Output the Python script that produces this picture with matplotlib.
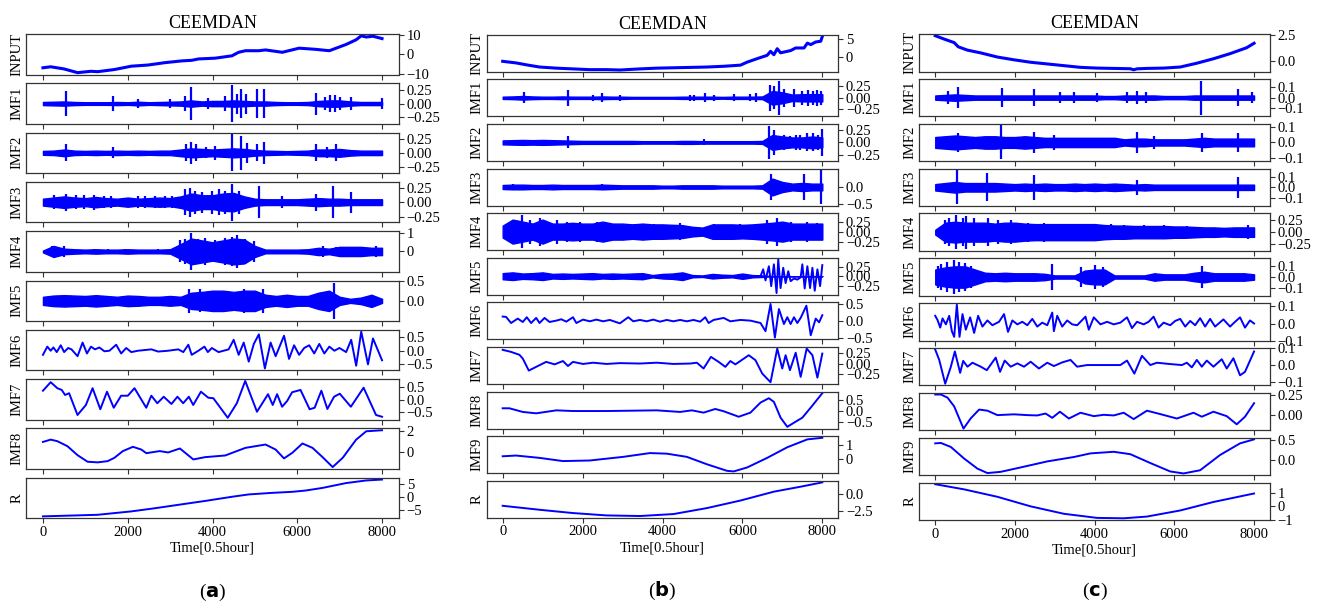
import numpy as np
import matplotlib
matplotlib.use("Agg")
import matplotlib.pyplot as plt

plt.rcParams['font.family'] = ['Liberation Serif', 'DejaVu Sans']
plt.rcParams['mathtext.fontset'] = 'dejavusans'

# common sample grid for the envelope of the dense (noisy) IMFs
band_t = np.arange(0, 8001, 250)
xticks = [0, 2000, 4000, 6000, 8000]

# ---------------- panel (a) ----------------
a_input_t = [0, 182, 499, 816, 1133, 1291, 1687, 2083, 2479, 2875, 3271, 3509, 3667, 4063, 4459, 4617, 4776, 5093,
             5251, 5647, 6043, 6439, 6756, 7152, 7389, 7508, 7627, 7785, 8000]
a_input_v = [-6.8, -6.3, -7.4, -9.3, -8.6, -8.8, -7.7, -6.0, -5.4, -4.2, -3.3, -3.0, -2.3, -1.9, -0.7, 1.1, 1.9, 1.9,
             2.3, 1.1, 3.2, 2.6, 1.9, 5.1, 7.5, 9.5, 8.9, 9.3, 8.1]

a_imf1_band = [0.03, 0.035, 0.04, 0.03, 0.025, 0.025, 0.025, 0.03, 0.025, 0.035, 0.025, 0.03, 0.035, 0.04, 0.06, 0.04,
               0.05, 0.05, 0.06, 0.05, 0.04, 0.04, 0.03, 0.025, 0.025, 0.03, 0.05, 0.06, 0.06, 0.04, 0.03, 0.03, 0.03]
a_imf1_spk_t = [540, 1650, 2240, 3000, 3350, 3490, 3900, 4300, 4460, 4580, 4680, 4780, 5050, 5210, 6440, 6650, 6780,
                6880, 7000, 7270, 7990]
a_imf1_spk_a = [0.24, 0.14, 0.09, 0.08, 0.14, 0.31, 0.11, 0.14, 0.35, 0.19, 0.28, 0.19, 0.28, 0.28, 0.21, 0.13, 0.17,
                0.16, 0.12, 0.13, 0.1]

a_imf2_band = [0.035, 0.04, 0.06, 0.04, 0.035, 0.04, 0.035, 0.04, 0.035, 0.04, 0.035, 0.04, 0.04, 0.06, 0.08, 0.07,
               0.06, 0.07, 0.08, 0.07, 0.05, 0.04, 0.035, 0.03, 0.035, 0.04, 0.06, 0.06, 0.07, 0.05, 0.04, 0.04, 0.04]
a_imf2_spk_t = [540, 1650, 3380, 3500, 3600, 3850, 4060, 4460, 4680, 4815, 5050, 5210, 6440, 6700, 6910]
a_imf2_spk_a = [0.15, 0.1, 0.15, 0.2, 0.15, 0.1, 0.12, 0.33, 0.3, 0.18, 0.15, 0.2, 0.15, 0.1, 0.15]

a_imf3_band = [0.06, 0.08, 0.1, 0.08, 0.07, 0.09, 0.07, 0.06, 0.08, 0.06, 0.07, 0.08, 0.07, 0.1, 0.15, 0.12, 0.12,
               0.15, 0.16, 0.1, 0.06, 0.05, 0.05, 0.05, 0.05, 0.06, 0.07, 0.06, 0.06, 0.05, 0.05, 0.05, 0.05]
a_imf3_spk_t = [261, 539, 776, 974, 1212, 1449, 1608, 2241, 2400, 2637, 2875, 3033, 3350, 3469, 3588, 3746, 3984, 4142,
                4301, 4459, 4617, 5093, 5647, 6439, 6835, 7271]
a_imf3_spk_a = [0.12, 0.15, 0.12, 0.12, 0.13, 0.1, 0.1, 0.1, 0.1, 0.1, 0.1, 0.1, 0.22, 0.25, 0.2, 0.18, 0.2, 0.22, 0.2,
                0.32, 0.2, 0.28, 0.1, 0.15, 0.28, 0.18]

a_imf4_band = [0.05, 0.3, 0.15, 0.12, 0.1, 0.12, 0.1, 0.1, 0.12, 0.1, 0.1, 0.1, 0.12, 0.4, 0.7, 0.6, 0.5, 0.6, 0.7,
               0.65, 0.3, 0.1, 0.1, 0.1, 0.1, 0.12, 0.2, 0.15, 0.25, 0.25, 0.25, 0.2, 0.2]
a_imf4_spk_t = [222, 499, 1212, 1529, 1925, 2716, 3231, 3350, 3485, 3667, 3825, 4063, 4301, 4459, 4578, 4776, 4974,
                6597, 6914, 7310, 7865]
a_imf4_spk_a = [0.3, 0.3, 0.12, 0.15, 0.12, 0.12, 0.6, 0.7, 1.0, 0.7, 0.75, 0.6, 0.75, 0.8, 0.9, 0.7, 0.55, 0.3, 0.25,
                0.2, 0.3]

a_imf5_band = [0.1, 0.13, 0.14, 0.13, 0.12, 0.14, 0.12, 0.1, 0.13, 0.12, 0.1, 0.1, 0.12, 0.1, 0.2, 0.22, 0.25, 0.25,
               0.22, 0.25, 0.25, 0.15, 0.12, 0.15, 0.12, 0.12, 0.2, 0.25, 0.1, 0.05, 0.08, 0.15, 0.05]
a_imf5_spk_t = [3450, 3700, 4740, 5200, 6870]
a_imf5_spk_a = [0.3, 0.28, 0.3, 0.3, 0.45]

a_imf6_t = [0, 103, 182, 246, 325, 420, 499, 594, 673, 816, 935, 1038, 1133, 1228, 1331, 1449, 1568, 1727, 1845, 1964,
            2083, 2241, 2558, 2717, 2954, 3192, 3311, 3429, 3509, 3667, 3810, 3889, 3984, 4142, 4380, 4499, 4617, 4736,
            4855, 4974, 5093, 5235, 5370, 5489, 5687, 5805, 5924, 6043, 6162, 6281, 6399, 6518, 6637, 6756, 6875, 6994,
            7152, 7271, 7389, 7508, 7667, 7785, 7999]
a_imf6_v = [-0.15, 0.15, 0.0, 0.12, -0.05, 0.2, -0.05, 0.1, 0.05, -0.2, 0.3, -0.1, 0.15, 0.05, 0.12, -0.02, 0.0, 0.22,
            -0.1, 0.1, -0.05, 0.0, 0.05, -0.03, 0.0, 0.05, -0.05, 0.22, -0.15, 0.0, 0.15, -0.05, 0.1, -0.05, 0.05, 0.4,
            -0.15, 0.3, -0.4, 0.25, 0.6, -0.65, 0.3, -0.2, 0.55, -0.3, 0.2, -0.15, 0.1, 0.2, -0.1, 0.25, -0.1, 0.15,
            0.0, 0.1, -0.05, 0.4, -0.55, 0.7, -0.5, 0.45, -0.35]

a_imf7_t = [0, 182, 340, 443, 522, 617, 815, 1013, 1171, 1353, 1511, 1670, 1844, 2002, 2160, 2437, 2556, 2698, 2849,
            3031, 3173, 3308, 3442, 3545, 3727, 3901, 4020, 4360, 4574, 4772, 5049, 5310, 5421, 5524, 5642, 5761, 5879,
            6077, 6291, 6410, 6568, 6710, 6868, 7003, 7264, 7565, 7858, 8000]
a_imf7_v = [0.37, 0.71, 0.47, 0.4, 0.2, 0.27, -0.6, -0.2, 0.47, -0.37, 0.33, -0.31, 0.17, 0.17, 0.47, -0.31, 0.17,
            -0.13, 0.13, -0.16, 0.13, -0.13, 0.13, -0.2, 0.33, 0.09, 0.07, -0.71, -0.13, 0.76, -0.47, 0.23, -0.2, 0.23,
            -0.27, -0.04, 0.31, 0.4, -0.37, -0.31, 0.37, -0.36, 0.13, 0.25, -0.27, 0.49, -0.6, -0.67]

a_imf8_t = [0, 182, 340, 578, 816, 1053, 1291, 1529, 1687, 1885, 2122, 2320, 2440, 2637, 2756, 2954, 3231, 3548, 3825,
            4300, 4776, 5251, 5489, 5687, 5884, 6122, 6360, 6597, 6835, 7073, 7389, 7627, 8000]
a_imf8_v = [0.98, 1.2, 1.05, 0.57, -0.29, -0.92, -0.98, -0.86, -0.54, 0.1, 0.51, 0.25, -0.1, 0.03, 0.1, -0.03, 0.35,
            -0.7, -0.48, -0.32, 0.41, 0.73, 0.25, -0.6, -0.06, 0.83, 0.41, -0.48, -1.43, -0.54, 1.2, 2.0, 2.1]

a_r_t = [0, 1291, 2083, 2637, 3271, 3825, 4459, 4855, 5409, 5884, 6201, 6597, 7152, 7627, 8000]
a_r_v = [-7.5, -6.9, -5.6, -4.4, -2.9, -1.6, 0.0, 0.9, 1.5, 1.9, 2.4, 3.4, 5.25, 6.25, 6.6]

# ---------------- panel (b) ----------------
b_input_t = [0, 335, 587, 922, 1341, 1760, 2179, 2598, 2933, 3436, 3855, 4274, 4693, 5112, 5531, 5950, 6117, 6369,
             6620, 6704, 6788, 6872, 6955, 7207, 7333, 7542, 7626, 7710, 7835, 7961, 8000]
b_input_v = [-1.07, -1.5, -2.0, -2.6, -2.9, -3.1, -3.3, -3.3, -3.4, -3.1, -2.9, -2.8, -2.7, -2.6, -2.4, -2.1, -1.3,
             -0.36, 0.54, 1.6, 0.7, 2.3, 1.2, 1.8, 2.5, 2.5, 3.8, 3.4, 4.1, 4.3, 5.6]

b_imf1_band = [0.025, 0.03, 0.04, 0.03, 0.025, 0.025, 0.03, 0.025, 0.025, 0.025, 0.03, 0.025, 0.025, 0.02, 0.02, 0.02,
               0.02, 0.02, 0.025, 0.025, 0.025, 0.025, 0.02, 0.025, 0.025, 0.025, 0.03, 0.15, 0.12, 0.07, 0.08, 0.08,
               0.08]
b_imf1_spk_t = [545, 1634, 2263, 2489, 2933, 4700, 4800, 5070, 5280, 5782, 6201, 6330, 6700, 6790, 6913, 7050, 7291,
                7500, 7640, 7760, 7870, 7970]
b_imf1_spk_a = [0.12, 0.18, 0.07, 0.1, 0.06, 0.07, 0.07, 0.1, 0.07, 0.08, 0.08, 0.1, 0.28, 0.25, 0.37, 0.2, 0.2, 0.15,
                0.17, 0.15, 0.17, 0.15]

b_imf2_band = [0.04, 0.045, 0.05, 0.045, 0.05, 0.045, 0.04, 0.035, 0.03, 0.03, 0.03, 0.03, 0.03, 0.03, 0.025, 0.025,
               0.025, 0.025, 0.03, 0.03, 0.025, 0.025, 0.025, 0.025, 0.025, 0.025, 0.03, 0.15, 0.12, 0.1, 0.1, 0.12,
               0.1]
b_imf2_spk_t = [1634, 5050, 6662, 6790, 7030, 7200, 7330, 7450, 7620, 7760, 7880, 7986]
b_imf2_spk_a = [0.12, 0.06, 0.34, 0.25, 0.15, 0.12, 0.15, 0.15, 0.18, 0.18, 0.15, 0.27]

b_imf3_band = [0.06, 0.07, 0.07, 0.06, 0.06, 0.07, 0.06, 0.06, 0.06, 0.06, 0.07, 0.06, 0.05, 0.05, 0.05, 0.05, 0.04,
               0.04, 0.05, 0.05, 0.05, 0.05, 0.04, 0.04, 0.04, 0.04, 0.05, 0.25, 0.15, 0.1, 0.12, 0.1, 0.1]
b_imf3_spk_t = [268, 2483, 6705, 7541, 7975]
b_imf3_spk_a = [0.1, 0.08, 0.38, 0.38, 0.5]

b_imf4_band = [0.15, 0.3, 0.25, 0.2, 0.3, 0.2, 0.2, 0.22, 0.2, 0.2, 0.25, 0.2, 0.2, 0.18, 0.2, 0.18, 0.18, 0.17,
               0.16, 0.12, 0.1, 0.18, 0.18, 0.18, 0.17, 0.18, 0.2, 0.22, 0.25, 0.2, 0.2, 0.2, 0.2]
b_imf4_spk_t = [268, 477, 686, 936, 1354, 1605, 1940, 2357, 2566, 2859, 3277, 3779, 4448, 5284, 5952, 6621, 6872, 7206,
                7624, 7875]
b_imf4_spk_a = [0.3, 0.42, 0.3, 0.35, 0.3, 0.25, 0.25, 0.25, 0.25, 0.2, 0.2, 0.18, 0.22, 0.2, 0.18, 0.3, 0.35, 0.25,
                0.25, 0.22]

b_imf5_band = [0.08, 0.1, 0.07, 0.08, 0.1, 0.06, 0.07, 0.06, 0.07, 0.08, 0.06, 0.07, 0.06, 0.07, 0.08, 0.03, 0.06,
               0.07, 0.1, 0.03, 0.02, 0.06, 0.04, 0.03, 0.07, 0.03, 0.02, 0, 0, 0, 0, 0, 0]
b_imf5_t = [6300, 6453, 6520, 6578, 6662, 6721, 6788, 6855, 6897, 6955, 7022, 7081, 7148, 7207, 7291, 7374, 7458, 7500,
            7559, 7626, 7693, 7752, 7810, 7877, 7944, 8000]
b_imf5_v = [0.0, 0.0, 0.18, -0.11, 0.26, -0.26, 0.31, -0.44, 0.44, -0.31, 0.22, -0.18, 0.13, -0.13, -0.06, -0.09,
            -0.03, 0.31, -0.32, 0.26, -0.31, 0.22, -0.38, 0.18, -0.26, 0.29]

b_imf6_t = [0, 84, 210, 377, 503, 603, 712, 838, 922, 1048, 1173, 1341, 1467, 1592, 1760, 1844, 2011, 2179, 2346, 2514,
            2682, 2933, 3143, 3268, 3436, 3604, 3771, 3939, 4106, 4274, 4441, 4609, 4777, 4944, 5070, 5154, 5279, 5531,
            5698, 5950, 6201, 6453, 6578, 6704, 6813, 6914, 7039, 7123, 7207, 7291, 7374, 7458, 7601, 7710, 7835, 7919,
            8000]
b_imf6_v = [0.12, 0.11, -0.07, 0.06, -0.04, 0.1, -0.07, 0.08, -0.07, 0.08, -0.04, 0.0, 0.04, -0.03, 0.1, -0.07, 0.03,
            -0.02, 0.03, -0.02, 0.02, -0.08, 0.1, -0.02, 0.02, -0.02, 0.03, -0.03, 0.02, -0.02, 0.02, -0.02, 0.02,
            -0.03, 0.1, -0.07, 0.02, 0.08, -0.02, 0.02, 0.0, -0.07, -0.31, 0.49, -0.5, 0.34, -0.1, 0.1, -0.1, 0.1,
            -0.07, 0.08, 0.44, -0.43, 0.06, -0.05, 0.16]

b_imf7_t = [0, 210, 419, 503, 654, 838, 1089, 1299, 1508, 1634, 1760, 2011, 2263, 2598, 2933, 3436, 3855, 4274, 4693,
            4860, 5028, 5212, 5405, 5573, 5698, 5824, 6159, 6327, 6495, 6704, 6872, 6997, 7081, 7190, 7333, 7458, 7609,
            7752, 7877, 8000]
b_imf7_v = [0.33, 0.28, 0.21, 0.12, -0.17, -0.08, 0.04, -0.02, 0.06, -0.06, 0.04, -0.01, 0.02, -0.01, 0.01, 0.0, 0.02,
            -0.01, 0.0, 0.02, -0.12, 0.16, 0.04, -0.08, 0.06, -0.02, 0.2, 0.08, -0.24, -0.45, 0.36, -0.12, 0.2, -0.16,
            0.26, -0.32, 0.36, 0.2, -0.34, 0.24]

b_imf8_t = [0, 168, 503, 838, 1341, 1760, 2598, 3855, 4441, 4735, 5028, 5321, 5531, 5908, 6201, 6453, 6662, 6788, 6955,
            7123, 7291, 7500, 7710, 8000]
b_imf8_v = [0.12, 0.12, -0.04, -0.1, 0.03, 0.0, 0.0, 0.03, -0.04, 0.03, -0.07, 0.09, -0.01, -0.25, -0.07, 0.37, 0.56,
            0.4, -0.29, -0.69, -0.51, -0.29, 0.15, 0.78]

b_imf9_t = [0, 335, 922, 1508, 2179, 3017, 3687, 4106, 4609, 5112, 5615, 5782, 6117, 6620, 7123, 7626, 8000]
b_imf9_v = [0.22, 0.27, 0.11, -0.11, -0.07, 0.18, 0.44, 0.4, 0.18, -0.33, -0.78, -0.82, -0.55, 0.11, 0.84, 1.38, 1.49]

b_r_t = [0, 922, 1760, 2598, 3436, 4274, 5112, 5950, 6788, 7458, 8000]
b_r_v = [-1.76, -2.35, -2.84, -3.19, -3.28, -2.99, -2.1, -0.98, 0.34, 1.08, 1.72]

# ---------------- panel (c) ----------------
c_input_t = [0, 225, 475, 575, 809, 1143, 1560, 1977, 2394, 2811, 3228, 3645, 4062, 4479, 4896, 4979, 5062, 5312, 5730,
             6147, 6564, 6981, 7398, 7815, 8000]
c_input_v = [2.4, 2.08, 1.75, 1.36, 1.04, 0.78, 0.39, 0.13, -0.1, -0.26, -0.42, -0.58, -0.65, -0.68, -0.71, -0.81,
             -0.72, -0.68, -0.65, -0.55, -0.19, 0.23, 0.71, 1.27, 1.69]

c_imf1_band = [0.02, 0.025, 0.03, 0.025, 0.02, 0.02, 0.02, 0.02, 0.02, 0.02, 0.02, 0.02, 0.02, 0.02, 0.02, 0.02, 0.02,
               0.015, 0.015, 0.02, 0.02, 0.02, 0.02, 0.015, 0.015, 0.015, 0.02, 0.02, 0.02, 0.02, 0.02, 0.02, 0.02]
c_imf1_spk_t = [309, 575, 1668, 2477, 3140, 3470, 4050, 4800, 5062, 5300, 6672, 7606, 7960]
c_imf1_spk_a = [0.06, 0.1, 0.09, 0.08, 0.05, 0.05, 0.04, 0.05, 0.06, 0.05, 0.16, 0.08, 0.05]

c_imf2_band = [0.035, 0.04, 0.045, 0.04, 0.035, 0.04, 0.04, 0.035, 0.035, 0.04, 0.035, 0.03, 0.03, 0.03, 0.03, 0.03,
               0.03, 0.03, 0.03, 0.02, 0.025, 0.025, 0.02, 0.02, 0.02, 0.02, 0.025, 0.03, 0.025, 0.025, 0.025, 0.025,
               0.025]
c_imf2_spk_t = [575, 1660, 2477, 2980, 5062, 5500, 6689, 7606]
c_imf2_spk_a = [0.06, 0.11, 0.07, 0.05, 0.07, 0.04, 0.06, 0.06]

c_imf3_band = [0.03, 0.04, 0.05, 0.04, 0.04, 0.04, 0.04, 0.035, 0.03, 0.035, 0.03, 0.035, 0.03, 0.03, 0.035, 0.03,
               0.035, 0.03, 0.035, 0.03, 0.025, 0.03, 0.025, 0.025, 0.025, 0.025, 0.025, 0.025, 0.025, 0.025, 0.025,
               0.025, 0.025]
c_imf3_spk_t = [541, 1300, 2482, 5064, 7605]
c_imf3_spk_a = [0.16, 0.13, 0.12, 0.07, 0.1]

c_imf4_band = [0.05, 0.2, 0.22, 0.2, 0.2, 0.2, 0.18, 0.2, 0.2, 0.18, 0.17, 0.17, 0.17, 0.17, 0.17, 0.17, 0.17, 0.15,
               0.14, 0.14, 0.13, 0.13, 0.13, 0.13, 0.12, 0.12, 0.11, 0.1, 0.1, 0.09, 0.1, 0.1, 0.1]
c_imf4_spk_t = [233, 333, 525, 691, 775, 983, 1316, 1566, 1899, 2316, 2732, 3149, 3565, 3982, 4398, 4731, 5231, 5731,
                6314, 7855]
c_imf4_spk_a = [0.25, 0.3, 0.36, 0.3, 0.35, 0.3, 0.3, 0.25, 0.25, 0.2, 0.2, 0.18, 0.18, 0.15, 0.17, 0.15, 0.15, 0.15,
                0.12, 0.15]

c_imf5_band = [0.07, 0.09, 0.1, 0.1, 0.07, 0.04, 0.035, 0.04, 0.035, 0.035, 0.035, 0.03, 0.015, 0.015, 0.015, 0.06,
               0.07, 0.07, 0.015, 0.015, 0.015, 0.015, 0.035, 0.025, 0.025, 0.025, 0.04, 0.05, 0.035, 0.035, 0.035,
               0.035, 0.025]
c_imf5_spk_t = [60, 150, 300, 475, 600, 750, 900, 2936, 3650, 4000, 4200, 6690]
c_imf5_spk_a = [0.1, 0.12, 0.14, 0.16, 0.14, 0.13, 0.1, 0.12, 0.09, 0.11, 0.09, 0.1]

c_imf6_t = [0, 58, 125, 183, 267, 350, 417, 475, 542, 609, 684, 767, 876, 976, 1076, 1184, 1309, 1434, 1601, 1726, 1826,
            1935, 2060, 2185, 2310, 2435, 2560, 2685, 2811, 2936, 2977, 3061, 3186, 3311, 3436, 3561, 3770, 3853, 3978,
            4145, 4312, 4479, 4645, 4812, 4937, 5062, 5229, 5354, 5479, 5604, 5730, 5896, 6021, 6147, 6272, 6397, 6522,
            6647, 6772, 6897, 7022, 7231, 7398, 7523, 7648, 7773, 7898, 8000]
c_imf6_v = [0.045, 0.02, -0.024, 0.03, -0.005, 0.045, -0.045, -0.078, 0.11, -0.078, 0.055, -0.036, 0.036, -0.055,
            0.045, -0.018, 0.018, -0.01, 0.01, 0.055, -0.049, 0.018, -0.005, 0.01, -0.01, 0.027, -0.018, 0.005, -0.01,
            0.064, -0.045, 0.045, -0.018, 0.018, -0.005, -0.01, 0.04, -0.036, 0.036, -0.005, 0.01, -0.005, 0.005,
            0.036, -0.027, 0.01, -0.005, 0.01, 0.04, -0.024, 0.005, -0.01, 0.015, 0.027, -0.018, 0.015, -0.01, 0.031,
            -0.018, 0.027, -0.018, 0.024, -0.018, 0.01, 0.036, -0.024, 0.018, 0.0]

c_imf7_t = [0, 100, 250, 392, 492, 625, 701, 809, 934, 1143, 1293, 1518, 1626, 1743, 1893, 2060, 2227, 2394, 2602, 2811,
            2977, 3186, 3394, 3561, 3811, 4645, 4812, 4996, 5187, 5396, 5563, 5896, 6188, 6313, 6438, 6564, 6689, 6814,
            6981, 7189, 7314, 7481, 7648, 7773, 8000]
c_imf7_v = [0.093, 0.031, -0.113, -0.01, 0.082, -0.047, 0.025, -0.01, 0.014, -0.01, -0.031, 0.045, -0.041, 0.027,
            -0.01, 0.01, -0.01, 0.02, -0.021, 0.014, -0.006, 0.016, 0.031, -0.01, 0.0, 0.0, 0.027, -0.052, 0.056, 0.0,
            0.014, 0.006, 0.0, 0.014, -0.014, 0.031, -0.01, 0.027, -0.01, 0.035, -0.021, 0.041, -0.062, -0.041, 0.082]

c_imf8_t = [0, 142, 309, 475, 709, 892, 1101, 1309, 1560, 1977, 2310, 2560, 2769, 2936, 3128, 3353, 3645, 3978, 4228,
            4479, 4729, 4979, 5312, 5646, 6063, 6480, 6689, 6981, 7314, 7565, 7773, 8000]
c_imf8_v = [0.26, 0.26, 0.22, 0.11, -0.17, -0.04, 0.07, 0.056, 0.0, 0.01, 0.0, -0.004, 0.02, -0.034, 0.043, -0.043,
            0.03, -0.013, 0.004, -0.004, 0.03, -0.05, 0.056, 0.013, -0.043, 0.03, -0.02, 0.043, -0.013, -0.116, -0.02,
            0.15]

c_imf9_t = [0, 142, 392, 726, 1059, 1309, 1643, 2143, 2811, 3478, 3895, 4479, 4896, 5396, 5896, 6230, 6647, 7147, 7648,
            8000]
c_imf9_v = [0.42, 0.43, 0.33, 0.04, -0.21, -0.32, -0.29, -0.18, -0.03, 0.08, 0.17, 0.21, 0.15, -0.07, -0.28, -0.33,
            -0.25, 0.13, 0.42, 0.52]

c_r_t = [0, 726, 1560, 2394, 3228, 4062, 4729, 5312, 6147, 6981, 8000]
c_r_v = [1.67, 1.28, 0.72, 0.0, -0.56, -0.87, -0.9, -0.77, -0.31, 0.33, 0.97]

# ---------------- row specs ----------------
rows_a = [
    ("INPUT", dict(t=a_input_t, v=a_input_v, lw=2.2), [-10, 0, 10]),
    ("IMF1", dict(band=a_imf1_band, st=a_imf1_spk_t, sa=a_imf1_spk_a), [-0.25, 0, 0.25]),
    ("IMF2", dict(band=a_imf2_band, st=a_imf2_spk_t, sa=a_imf2_spk_a), [-0.25, 0, 0.25]),
    ("IMF3", dict(band=a_imf3_band, st=a_imf3_spk_t, sa=a_imf3_spk_a), [-0.25, 0, 0.25]),
    ("IMF4", dict(band=a_imf4_band, st=a_imf4_spk_t, sa=a_imf4_spk_a), [0, 1]),
    ("IMF5", dict(band=a_imf5_band, st=a_imf5_spk_t, sa=a_imf5_spk_a), [0.0, 0.5]),
    ("IMF6", dict(t=a_imf6_t, v=a_imf6_v), [-0.5, 0, 0.5]),
    ("IMF7", dict(t=a_imf7_t, v=a_imf7_v), [-0.5, 0, 0.5]),
    ("IMF8", dict(t=a_imf8_t, v=a_imf8_v), [0, 2]),
    ("R", dict(t=a_r_t, v=a_r_v), [-5, 0, 5]),
]
rows_b = [
    ("INPUT", dict(t=b_input_t, v=b_input_v, lw=2.2), [0, 5]),
    ("IMF1", dict(band=b_imf1_band, st=b_imf1_spk_t, sa=b_imf1_spk_a), [-0.25, 0, 0.25]),
    ("IMF2", dict(band=b_imf2_band, st=b_imf2_spk_t, sa=b_imf2_spk_a), [-0.25, 0, 0.25]),
    ("IMF3", dict(band=b_imf3_band, st=b_imf3_spk_t, sa=b_imf3_spk_a), [-0.5, 0.0]),
    ("IMF4", dict(band=b_imf4_band, st=b_imf4_spk_t, sa=b_imf4_spk_a), [-0.25, 0, 0.25]),
    ("IMF5", dict(band=b_imf5_band, t=b_imf5_t, v=b_imf5_v), [-0.25, 0, 0.25]),
    ("IMF6", dict(t=b_imf6_t, v=b_imf6_v), [-0.5, 0, 0.5]),
    ("IMF7", dict(t=b_imf7_t, v=b_imf7_v), [-0.25, 0, 0.25]),
    ("IMF8", dict(t=b_imf8_t, v=b_imf8_v), [-0.5, 0, 0.5]),
    ("IMF9", dict(t=b_imf9_t, v=b_imf9_v), [0, 1]),
    ("R", dict(t=b_r_t, v=b_r_v), [-2.5, 0.0]),
]
rows_c = [
    ("INPUT", dict(t=c_input_t, v=c_input_v, lw=2.2), [0.0, 2.5]),
    ("IMF1", dict(band=c_imf1_band, st=c_imf1_spk_t, sa=c_imf1_spk_a), [-0.1, 0, 0.1]),
    ("IMF2", dict(band=c_imf2_band, st=c_imf2_spk_t, sa=c_imf2_spk_a), [-0.1, 0, 0.1]),
    ("IMF3", dict(band=c_imf3_band, st=c_imf3_spk_t, sa=c_imf3_spk_a), [-0.1, 0, 0.1]),
    ("IMF4", dict(band=c_imf4_band, st=c_imf4_spk_t, sa=c_imf4_spk_a), [-0.25, 0, 0.25]),
    ("IMF5", dict(band=c_imf5_band, st=c_imf5_spk_t, sa=c_imf5_spk_a), [-0.1, 0, 0.1]),
    ("IMF6", dict(t=c_imf6_t, v=c_imf6_v), [-0.1, 0, 0.1]),
    ("IMF7", dict(t=c_imf7_t, v=c_imf7_v), [-0.1, 0, 0.1]),
    ("IMF8", dict(t=c_imf8_t, v=c_imf8_v), [0, 0.25]),
    ("IMF9", dict(t=c_imf9_t, v=c_imf9_v), [0, 0.5]),
    ("R", dict(t=c_r_t, v=c_r_v), [-1, 0, 1]),
]

W, H = 1320, 610
fig = plt.figure(figsize=(W / 100, H / 100), dpi=100)
blue = (0, 0, 1)
frame = '0.2'


def draw_row(ax, t=None, v=None, band=None, st=None, sa=None, lw=1.4):
    if band is not None:
        b = np.array(band)
        ax.fill_between(band_t, -b, b, color=blue, lw=1.0)
    if st is not None:
        a = np.array(sa)
        ax.vlines(st, -a, a, color=blue, lw=1.6)
    if t is not None:
        ax.plot(t, v, color=blue, lw=lw, solid_joinstyle='round')


def column(rows, left, width, top, height, pitch, letter, label_y):
    axes = []
    for i, (name, spec, yt) in enumerate(rows):
        y0 = top + i * pitch
        ax = fig.add_axes([left / W, 1 - (y0 + height) / H, width / W, height / H])
        draw_row(ax, **spec)
        ax.set_xticks(xticks)
        ax.set_yticks(yt)
        ax.yaxis.tick_right()
        ax.tick_params(axis='both', direction='out', length=3.5, width=0.8, color=frame,
                       labelsize=10.5, pad=2)
        if i < len(rows) - 1:
            ax.tick_params(axis='x', labelbottom=False)
        ax.set_ylabel(name, fontsize=10.5, labelpad=2)
        for s in ax.spines.values():
            s.set_color(frame)
            s.set_linewidth(0.9)
        axes.append(ax)
    axes[0].set_title("CEEMDAN", fontsize=13, pad=4)
    axes[-1].set_xlabel("Time[0.5hour]", fontsize=10.5, labelpad=2)
    fig.text((left + width / 2) / W, 1 - label_y / H, "(" + r"$\mathbf{%s}$" % letter + ")",
             ha='center', va='center', fontsize=14)
    return axes


column(rows_a, 26, 373, 34, 40.5, 49.3, 'a', 592)
column(rows_b, 486.7, 351.6, 34.7, 37, 44.6, 'b', 591)
column(rows_c, 919.3, 350.7, 34, 37.5, 44.85, 'c', 591)

fig.savefig("out.png", dpi=100)
